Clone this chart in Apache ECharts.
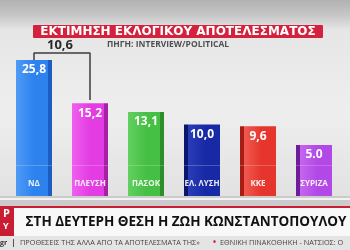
<!DOCTYPE html>
<html><head><meta charset="utf-8">
<script src="https://cdn.jsdelivr.net/npm/echarts@6/dist/echarts.min.js"></script>
<style>html,body{margin:0;padding:0;background:#e8e8e8}#c{width:350px;height:250px}</style>
</head><body><div id="c"></div>
<script>
const categories = ['ΝΔ', 'ΠΛΕΥΣΗ', 'ΠΑΣΟΚ', 'ΕΛ. ΛΥΣΗ', 'ΚΚΕ', 'ΣΥΡΙΖΑ'];
const values = [25.8, 15.2, 13.1, 10.0, 9.6, 5.0];
const valueLabels = ['25,8', '15,2', '13,1', '10,0', '9,6', '5.0'];
const titleText = 'ΕΚΤΙΜΗΣΗ ΕΚΛΟΓΙΚΟΥ ΑΠΟΤΕΛΕΣΜΑΤΟΣ';
const sourceText = 'ΠΗΓΗ: INTERVIEW/POLITICAL';
const headline = 'ΣΤΗ ΔΕΥΤΕΡΗ ΘΕΣΗ Η ΖΩΗ ΚΩΝΣΤΑΝΤΟΠΟΥΛΟΥ';
const tickerText = 'ΠΡΟΘΕΣΕΙΣ ΤΗΣ ΑΛΛΑ ΑΠΟ ΤΑ ΑΠΟΤΕΛΕΣΜΑΤΑ ΤΗΣ» ';
const tickerText2 = 'ΕΘΝΙΚΗ ΠΙΝΑΚΟΘΗΚΗ - ΝΑΤΣΙΟΣ: Ο';

const PED = 7.46;      // logo pedestal height (axis units)
const colors = [
  ['#4f9bf5', '#2e82ee', '#1d5cc0'],
  ['#f060ee', '#e33ce2', '#a81fa8'],
  ['#62d060', '#46c044', '#2c8f2c'],
  ['#2a3cb8', '#1829a6', '#0b176c'],
  ['#f05a50', '#e5352c', '#a81c16'],
  ['#c466ee', '#b248e6', '#6e1c9a']
];
function grad(i) {
  const c = colors[i];
  const rightSide = i < 3;
  return new echarts.graphic.LinearGradient(0, 0, 1, 0, rightSide ? [
    {offset: 0, color: c[0]}, {offset: 0.5, color: c[1]}, {offset: 0.88, color: c[1]},
    {offset: 0.89, color: c[2]}, {offset: 1, color: c[2]}
  ] : [
    {offset: 0, color: c[2]}, {offset: 0.11, color: c[2]}, {offset: 0.12, color: c[0]},
    {offset: 0.6, color: c[1]}, {offset: 1, color: c[1]}
  ]);
}

const chart = echarts.init(document.getElementById('c'), null, {renderer: 'canvas'});
const FONT = 'Open Sans';
const top0 = values[0] + PED, top1 = values[1] + PED;
const H = top0 + 1.7;

chart.setOption({
  animation: false,
  backgroundColor: new echarts.graphic.LinearGradient(0, 0, 0, 1, [
    {offset: 0, color: '#b2b2b2'}, {offset: 0.06, color: '#c6c6c6'},
    {offset: 0.12, color: '#e6e6e6'}, {offset: 0.45, color: '#eeeeee'},
    {offset: 0.78, color: '#e2e2e2'}, {offset: 1, color: '#dcdcdc'}
  ]),
  grid: {left: 6, right: 8, top: 32.4, bottom: 54},
  xAxis: {type: 'category', data: categories, show: false},
  yAxis: {type: 'value', min: 0, max: 40, show: false},
  series: [
    {
      type: 'bar', stack: 'a', barWidth: 36, z: 3,
      data: categories.map((c, i) => ({value: PED, itemStyle: {color: grad(i)}})),
      label: {show: true, position: 'inside', offset: [0, 3],
        formatter: p => categories[p.dataIndex],
        color: 'rgba(255,255,255,0.9)', fontFamily: FONT, fontWeight: 'bold', fontSize: 8}
    },
    {
      type: 'bar', stack: 'a', barWidth: 36, z: 3,
      data: values.map((v, i) => ({value: v, itemStyle: {color: grad(i)}})),
      label: {show: true, position: 'insideTop', distance: 4,
        formatter: p => valueLabels[p.dataIndex],
        color: '#ffffff', fontFamily: FONT, fontWeight: 'bold', fontSize: 12}
    },
    {
      type: 'line', symbol: 'none', z: 5, silent: true,
      lineStyle: {color: '#3c3c3c', width: 1.5},
      data: [[0, top0], [0, H], [1, H], [1, top1 + 0.8]]
    }
  ]
});

const p0 = chart.convertToPixel({seriesIndex: 2}, [0, H]);
const p1 = chart.convertToPixel({seriesIndex: 2}, [1, H]);
const diff = (values[0] - values[1]).toFixed(1).replace('.', ',');

chart.setOption({
  graphic: [
    {type: 'rect', z: -5, shape: {x: 0, y: 196, width: 350, height: 11}, style: {fill: '#cbcbcb'}},
    {type: 'rect', z: -4, shape: {x: 0, y: 198, width: 350, height: 2}, style: {fill: '#f2f2f2'}},
    {type: 'rect', z: 10, shape: {x: 0, y: 206, width: 350, height: 2}, style: {fill: '#c81d32'}},
    {type: 'rect', z: 10, shape: {x: 0, y: 208, width: 350, height: 28}, style: {fill: '#f8f8f8'}},
    {type: 'rect', z: 11, shape: {x: 0, y: 206, width: 14, height: 30}, style: {fill: '#c81d32'}},
    {type: 'text', z: 12, style: {text: 'P', x: 3, y: 208, fill: '#fff', font: 'bold 11px "Open Sans"'}},
    {type: 'text', z: 12, style: {text: 'Y', x: 3, y: 222, fill: '#fff', font: 'bold 9px "Open Sans"'}},
    {type: 'text', z: 12, style: {text: headline, x: 186, y: 222, align: 'center', verticalAlign: 'middle', fill: '#111', font: 'bold 13.5px "Open Sans"'}},
    {type: 'rect', z: 10, shape: {x: 0, y: 236, width: 350, height: 14}, style: {fill: '#e4e4e4'}},
    {type: 'text', z: 12, style: {text: 'gr', x: 0, y: 243, verticalAlign: 'middle', fill: '#333', font: 'bold 7px "Open Sans"'}},
    {type: 'rect', z: 12, shape: {x: 13, y: 239, width: 1, height: 8}, style: {fill: '#555'}},
    {type: 'text', z: 12, style: {text: tickerText, x: 20, y: 243, verticalAlign: 'middle', fill: '#444', font: '7.3px "Open Sans"'}},
    {type: 'text', z: 12, style: {text: '•', x: 213, y: 243, verticalAlign: 'middle', fill: '#c81d32', font: 'bold 8px "Open Sans"'}},
    {type: 'text', z: 12, style: {text: tickerText2, x: 220, y: 243, verticalAlign: 'middle', fill: '#444', font: '7.3px "Open Sans"'}},
    {type: 'rect', z: 10, shape: {x: 33, y: 25, width: 290, height: 13, r: 1}, style: {fill: '#d4213d'}},
    {type: 'text', z: 12, style: {text: titleText, x: 178, y: 31.8, align: 'center', verticalAlign: 'middle', fill: '#fff', font: 'bold 12px "DejaVu Sans"'}},
    {type: 'text', z: 12, style: {text: sourceText, x: 107, y: 44.5, verticalAlign: 'middle', fill: '#505050', font: 'bold 8.5px "Open Sans"'}},
    {type: 'text', z: 12, style: {text: diff, x: (p0[0] + p1[0]) / 2 - 2, y: p0[1] - 8, align: 'center', verticalAlign: 'middle',
      fill: '#2a2a2a', font: 'bold 13px "Open Sans"'}}
  ]
});
</script></body></html>
